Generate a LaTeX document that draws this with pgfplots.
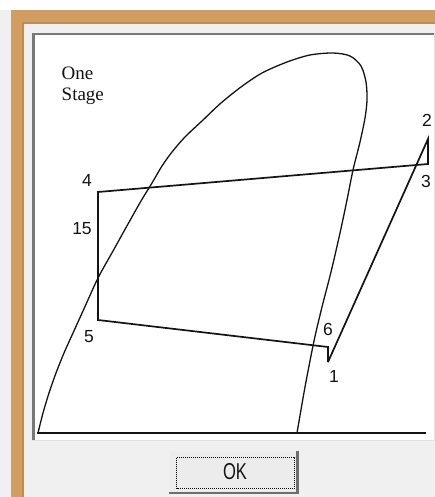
\documentclass[border=0pt]{standalone}
\usepackage{pgfplots}
\pgfplotsset{compat=1.18}
\usepackage{graphicx}
\usepackage{fontspec}
\setmainfont{Liberation Sans}
\newfontfamily\labelserif{Liberation Serif}

\definecolor{frametan}{RGB}{209,157,96}
\definecolor{frametandark}{RGB}{190,140,85}
\definecolor{panel}{RGB}{240,240,240}
\definecolor{sunkdark}{RGB}{120,120,120}
\definecolor{sunklight}{RGB}{225,225,225}
\definecolor{btnface}{RGB}{236,236,236}
\definecolor{btndark}{RGB}{110,110,110}
\definecolor{ink}{RGB}{20,20,20}

% Saturation dome of the refrigerant (screen coordinates, y downwards)
\pgfplotstableread{
x y
38 433
43 413
49 393
56 373
64 353
73 333
83 311
98 278
113 251
128 224
141 201
152 183
162 166
172 152
185 137
203 120
221 103
241 87
262 73
287 62
310 55
333 53
350 56
361 66
366 82
367 100
365 118
360 142
353 170
347 200
340 233
331 272
322 307
314 341
305 387
297 433
}\dometable

% One-stage vapour compression cycle: 1-2-3-4-5-6-1
\pgfplotstableread{
x y
328 362
428 139
428 164
98 192
98 320
328 347
328 362
}\cycletable

\begin{document}
\begin{tikzpicture}
\begin{axis}[
  width=435pt, height=497pt, scale only axis,
  xmin=0, xmax=435, ymin=0, ymax=497,
  y dir=reverse, hide axis, clip=false,
]
% window background and frame
\fill[panel] (axis cs:0,0) rectangle (axis cs:435,497);
\fill[white] (axis cs:0,0) rectangle (axis cs:435,10);
\fill[frametan] (axis cs:11,10) rectangle (axis cs:435,497);
\fill[frametandark] (axis cs:22,22) rectangle (axis cs:435,497);
\fill[panel] (axis cs:24,24) rectangle (axis cs:435,497);
% sunken chart area
\fill[sunklight] (axis cs:32,33) rectangle (axis cs:435,441);
\fill[sunkdark] (axis cs:32,33) rectangle (axis cs:433.5,439.5);
\fill[white] (axis cs:35,35.5) rectangle (axis cs:433.5,439.5);

% OK button
\fill[btndark] (axis cs:169,451) rectangle (axis cs:298.5,494);
\fill[sunklight!60!white] (axis cs:169,451) rectangle (axis cs:296,491.5);
\fill[btnface] (axis cs:170.5,452.5) rectangle (axis cs:296,491.5);
\draw[black, line width=0.9pt, dash pattern=on 1pt off 1pt]
  (axis cs:176.5,457.5) rectangle (axis cs:294.5,488);
\node[inner sep=0pt, text=ink] at (axis cs:235,471.5)
  {\scalebox{0.72}[1]{\fontsize{23}{23}\selectfont OK}};

% baseline
\addplot[ink, line width=2pt] coordinates {(37,433) (426,433)};
% saturation dome
\addplot[ink, line width=1.3pt, smooth, tension=0.5] table[x=x,y=y] {\dometable};
% cycle
\addplot[ink, line width=1.7pt, line join=miter] table[x=x,y=y] {\cycletable};

% labels
\node[inner sep=0pt, anchor=base west, text=ink] at (axis cs:61.5,80)
  {\labelserif\fontsize{19}{19}\selectfont One};
\node[inner sep=0pt, anchor=base west, text=ink] at (axis cs:61.5,101)
  {\labelserif\fontsize{19}{19}\selectfont Stage};
\begin{scope}[every node/.style={inner sep=0pt, text=ink, font=\fontsize{17.5}{17.5}\selectfont}]
\node at (axis cs:427,120) {2};
\node at (axis cs:426,181) {3};
\node at (axis cs:87,180) {4};
\node at (axis cs:82,229) {15};
\node at (axis cs:89,337) {5};
\node at (axis cs:328,329) {6};
\node at (axis cs:334,376) {1};
\end{scope}
\end{axis}
\end{tikzpicture}
\end{document}
